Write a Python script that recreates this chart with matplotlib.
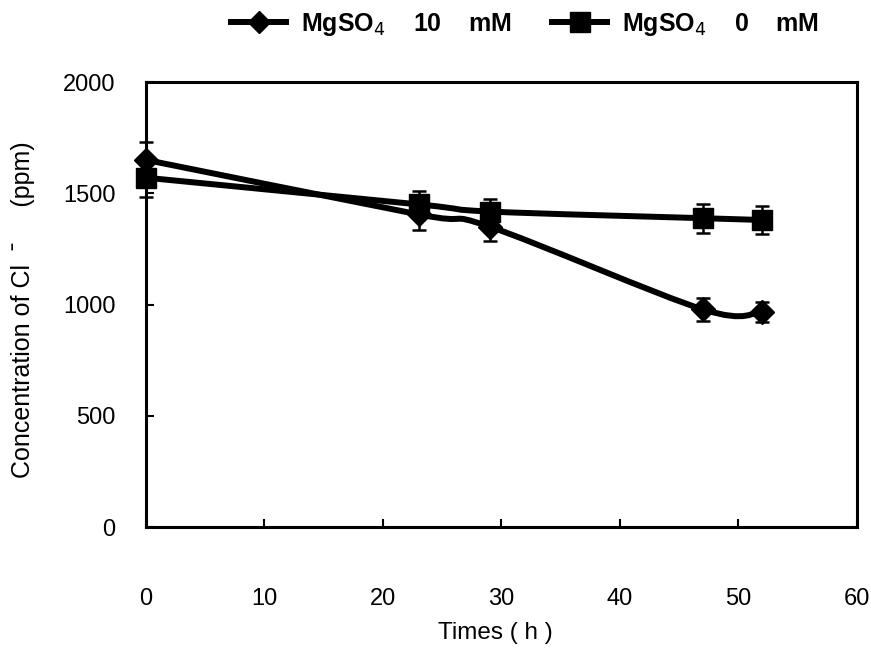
import numpy as np
import matplotlib.pyplot as plt
from matplotlib.path import Path
from matplotlib.patches import PathPatch

plt.rcParams.update({
    'font.family': ['Liberation Sans', 'DejaVu Sans'],
    'font.size': 17,
})

# data
times = [0, 23, 29, 47, 52]
mg10 = [1650, 1405, 1350, 978, 968]
mg10_err = [80, 70, 65, 50, 45]
mg0 = [1570, 1450, 1418, 1388, 1380]
mg0_err = [85, 58, 58, 65, 65]

labels = ['MgSO$_4$    10    mM', 'MgSO$_4$    0    mM']
xticks = [0, 10, 20, 30, 40, 50, 60]
yticks = [0, 500, 1000, 1500, 2000]


def smooth_path(x, y, t=1 / 6):
    """Excel-like smoothed line: cubic Bezier through the points."""
    x = np.asarray(x, float)
    y = np.asarray(y, float)
    verts = [(x[0], y[0])]
    codes = [Path.MOVETO]
    n = len(x)
    for i in range(n - 1):
        p0 = (x[max(i - 1, 0)], y[max(i - 1, 0)])
        p1 = (x[i], y[i])
        p2 = (x[i + 1], y[i + 1])
        p3 = (x[min(i + 2, n - 1)], y[min(i + 2, n - 1)])
        c1 = (p1[0] + t * (p2[0] - p0[0]), p1[1] + t * (p2[1] - p0[1]))
        c2 = (p2[0] - t * (p3[0] - p1[0]), p2[1] - t * (p3[1] - p1[1]))
        verts += [c1, c2, p2]
        codes += [Path.CURVE4] * 3
    return Path(verts, codes)


fig = plt.figure(figsize=(8.71, 6.5), dpi=100)
ax = fig.add_axes([0.1676, 0.1892, 0.8163, 0.6846])

series = [(mg10, mg10_err, 'D', 12), (mg0, mg0_err, 's', 14.5)]
handles = []
for vals, err, mk, ms in series:
    ax.add_patch(PathPatch(smooth_path(times, vals), fill=False,
                           edgecolor='black', lw=4.3, capstyle='round',
                           zorder=3))
    ax.errorbar(times, vals, yerr=err, fmt='none', ecolor='black',
                elinewidth=1.8, capsize=5, capthick=1.8, zorder=2,
                clip_on=False)
    ax.plot(times, vals, ls='none', marker=mk, ms=ms, color='black',
            zorder=4, clip_on=False)
    handles.append(plt.Line2D([], [], color='black', lw=4.3, marker=mk,
                              ms=ms * 0.95))

ax.set_xlim(0, 60)
ax.set_ylim(0, 2000)
ax.set_xticks(xticks)
ax.set_yticks(yticks)
for s in ax.spines.values():
    s.set_linewidth(2.2)
ax.tick_params(axis='both', direction='in', width=1.5, length=6,
               labelsize=17)
ax.tick_params(axis='x', pad=44)
ax.tick_params(axis='y', pad=22)

ax.set_xlabel('Times ( h )', fontsize=17.5)
ax.xaxis.set_label_coords(0.492, -0.214)
ax.set_ylabel('Concentration of Cl  \u02c9     (ppm)', fontsize=18)
ax.yaxis.set_label_coords(-0.156, 0.488)

fig.legend(handles, labels, loc='center', bbox_to_anchor=(0.603, 0.962),
           ncol=2, frameon=False, handlelength=2.2, handletextpad=0.6,
           columnspacing=1.6, prop={'weight': 'bold', 'size': 18})

fig.savefig('out.png', dpi=100)
